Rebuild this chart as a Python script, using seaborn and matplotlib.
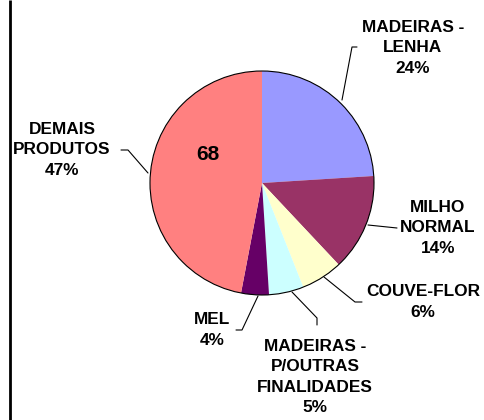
import matplotlib
matplotlib.use("Agg")
import matplotlib.pyplot as plt
import seaborn as sns
from matplotlib.patches import Circle

sns.set_theme(style="white")
plt.rcParams['font.family'] = ['Liberation Sans', 'DejaVu Sans']

# Data
categories = ["MADEIRAS -\nLENHA", "MILHO\nNORMAL", "COUVE-FLOR",
              "MADEIRAS -\nP/OUTRAS\nFINALIDADES", "MEL", "DEMAIS\nPRODUTOS"]
shares = [24, 14, 6, 5, 4, 47]
colors = ["#9999FF", "#993366", "#FFFFCC", "#CCFFFF", "#660066", "#FF8080"]
inner_label = "68"

W, H = 484, 420
fig = plt.figure(figsize=(W / 100, H / 100), dpi=100)
ax = fig.add_axes([0, 0, 1, 1])
ax.set_xlim(0, W)
ax.set_ylim(0, H)
ax.set_aspect("equal")
ax.axis("off")

def P(x, y):
    return (x, H - y)

cx, cy = P(262, 183)
R = 112
ax.pie(shares, colors=colors, startangle=90, counterclock=False,
       center=(cx, cy), radius=R, frame=True,
       wedgeprops=dict(linewidth=0, antialiased=True))
ax.add_patch(Circle((cx, cy), R, fill=False, edgecolor="black", linewidth=0.8, zorder=5))
ax.set_xlim(0, W)
ax.set_ylim(0, H)
ax.axis("off")

# label texts with percentages
labels = [f"{c}\n{s}%" for c, s in zip(categories, shares)]
label_pos = [(413, 48), (438, 228), (423, 302), (315, 377), (212, 330), (62, 150)]
leaders = [
    [(342, 100), (352, 47), (357, 47)],
    [(368, 225), (397, 228)],
    [(324, 277), (355, 302), (362, 302)],
    [(292, 292), (317, 318), (317, 325)],
    [(258, 296), (242, 330), (236, 330)],
    [(148, 173), (128, 150), (121, 150)],
]
for lab, (x, y), pts in zip(labels, label_pos, leaders):
    ax.text(*P(x, y), lab, ha="center", va="center", fontsize=12.4,
            fontweight="bold", linespacing=1.42, color="black")
    xs = [P(*p)[0] for p in pts]
    ys = [P(*p)[1] for p in pts]
    ax.plot(xs, ys, color="black", linewidth=0.8)

ax.text(*P(208, 154), inner_label, ha="center", va="center", fontsize=15,
        fontweight="bold", color="black")

# left border line
ax.plot([10, 10], [0, H], color="black", linewidth=2, solid_capstyle="butt")

fig.savefig("out.png", dpi=100)
